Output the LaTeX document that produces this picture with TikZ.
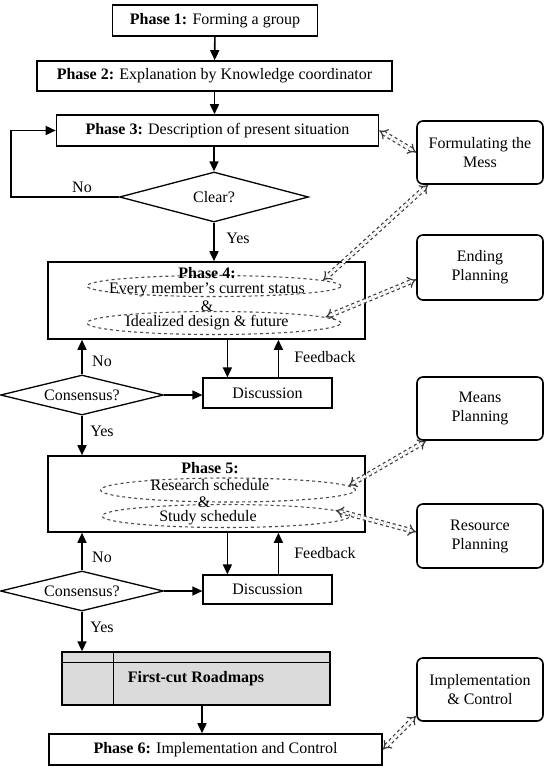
\documentclass[tikz,border=0pt]{standalone}
\usepackage{fontspec}
\setmainfont{Liberation Serif}
\usetikzlibrary{arrows.meta,shapes.geometric}

\begin{document}
\begin{tikzpicture}[x=1pt,y=-1pt,
  every node/.style={font=\fontsize{16}{19}\selectfont},
  phase/.style={draw,line width=1.6pt,inner sep=0pt},
  talk/.style={draw,line width=1.2pt,inner sep=0pt,minimum width=129,minimum height=30},
  plan/.style={draw,rounded corners=6pt,line width=1.6pt,align=center,minimum width=126,minimum height=63},
  ask/.style={draw,diamond,aspect=4,line width=1.3pt,inner sep=0pt},
  oval/.style={draw=gray!60!black,dashed,ellipse,line width=1.1pt,inner sep=0pt},
  arr/.style={line width=1.6pt,-{Triangle[length=10pt,width=9pt]}},
  dbl/.style={draw=gray!45!black,dashed,double,double distance=2.8pt,line width=1.2pt,{Implies}-{Implies}},
  lbl/.style={inner sep=0pt}]
\useasboundingbox (0,0) rectangle (554,769);

\node[phase,minimum width=205,minimum height=31] (p1) at (215,20.5) {\textbf{Phase 1:} Forming a group};
\node[phase,minimum width=355,minimum height=30] (p2) at (214.5,76) {\textbf{Phase 2:} Explanation by Knowledge coordinator};
\node[phase,minimum width=322,minimum height=31] (p3) at (217.5,130.5) {\textbf{Phase 3:} Description of present situation};
\node[ask,minimum width=189,minimum height=50] (clear) at (214,197) {Clear?};

\node[phase,minimum width=317,minimum height=77] (p4) at (206.5,300.5) {};
\node[oval,minimum width=254,minimum height=21] (e41) at (214,286) {};
\node[oval,minimum width=254,minimum height=23] (e42) at (214,323) {};
\node[lbl] (p4t) at (207,273) {\textbf{Phase 4:}};
\node[lbl] (p4a) at (207,290) {Every member's current status};
\node[lbl] (p4b) at (207,306) {\&};
\node[lbl] (p4c) at (207,323) {Idealized design \& future};
\node[ask,minimum width=163,minimum height=40] (c1) at (82,395) {Consensus?};
\node[talk] (d1) at (267.5,393) {Discussion};

\node[phase,minimum width=317,minimum height=76] (p5) at (206.5,494) {};
\node[oval,minimum width=255,minimum height=24] (e51) at (228,490) {};
\node[oval,minimum width=248,minimum height=23] (e52) at (226,516) {};
\node[lbl] (p5t) at (210,468) {\textbf{Phase 5:}};
\node[lbl] (p5a) at (210,485) {Research schedule};
\node[lbl] (p5b) at (204,502) {\&};
\node[lbl] (p5c) at (208,518) {Study schedule};
\node[ask,minimum width=163,minimum height=40] (c2) at (82,591) {Consensus?};
\node[talk,minimum height=29] (d2) at (267.5,589.5) {Discussion};

\node[draw,line width=1.3pt,fill=black!14,minimum width=268,minimum height=53,inner sep=0pt] (rm) at (196,678.5) {\textbf{First-cut Roadmaps}};
\draw[line width=1pt] ([xshift=52pt]rm.north west) -- ([xshift=52pt]rm.south west);
\draw[line width=1pt] ([yshift=-11pt]rm.north west) -- ([yshift=-11pt]rm.north east);
\node[phase,minimum width=333,minimum height=31] (p6) at (215.5,749.5) {\textbf{Phase 6:} Implementation and Control};

\node[plan] (fm) at (480,152.5) {Formulating the\\Mess};
\node[plan,minimum height=65] (ep) at (480,267.5) {Ending\\Planning};
\node[plan] (mp) at (480,408.5) {Means\\Planning};
\node[plan,minimum height=64] (rp) at (480,536) {Resource\\Planning};
\node[plan] (ic) at (480,689.5) {Implementation\\\& Control};

\draw[arr] (p1) -- (p2);
\draw[arr] (p2.south) -- (p2.south |- p3.north);
\draw[arr] (p3.south -| clear) -- (clear.north);
\draw[arr] (clear.west) -- ++(-108,0) |- (p3.west);
\node[lbl] (no0) at (82,187) {No};
\draw[arr] (clear.south) -- (clear.south |- p4.north);
\node[lbl] (yes0) at (238,238) {Yes};

\draw[arr] (c1.north) -- (c1.north |- p4.south);
\node[lbl] (no1) at (102,361) {No};
\draw[arr] (c1.east) -- (c1.east -| d1.west);
\draw[arr] ([xshift=25pt]d1.north west |- p4.south) -- ([xshift=25pt]d1.north west);
\draw[arr] ([xshift=76pt]d1.north west) -- ([xshift=76pt]d1.north west |- p4.south);
\node[lbl] (fb1) at (325,357) {Feedback};
\draw[arr] (c1.south) -- (c1.south |- p5.north);
\node[lbl] (yes1) at (102,431) {Yes};

\draw[arr] (c2.north) -- (c2.north |- p5.south);
\node[lbl] (no2) at (102,557) {No};
\draw[arr] (c2.east) -- (c2.east -| d2.west);
\draw[arr] ([xshift=25pt]d2.north west |- p5.south) -- ([xshift=25pt]d2.north west);
\draw[arr] ([xshift=76pt]d2.north west) -- ([xshift=76pt]d2.north west |- p5.south);
\node[lbl] (fb2) at (325,553) {Feedback};
\draw[arr] (c2.south) -- (c2.south |- rm.north);
\node[lbl] (yes2) at (102,627) {Yes};
\draw[arr] ([xshift=6pt]rm.south) -- ([xshift=6pt]rm.south |- p6.north);

\draw[dbl] (p3.east) -- (fm.west);
\draw[dbl] ([xshift=12pt]fm.south west) -- (e41.3);
\draw[dbl] (e42.3) -- ([yshift=-12pt]ep.west);
\draw[dbl] (e51.2) -- ([xshift=10pt]mp.south west);
\draw[dbl] (e52.3) -- ([yshift=4pt]rp.west);
\draw[dbl] (p6.east) -- ([yshift=6pt]ic.south west);
\end{tikzpicture}
\end{document}
